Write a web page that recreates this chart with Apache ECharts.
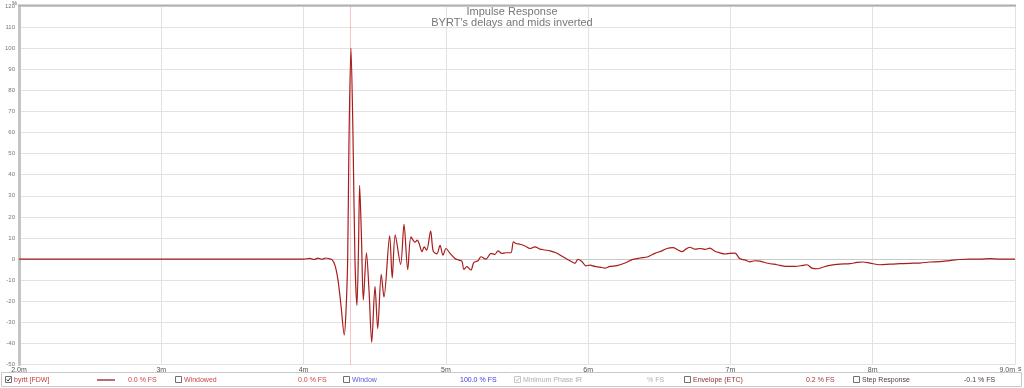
<!DOCTYPE html>
<html>
<head>
<meta charset="utf-8">
<script src="https://cdn.jsdelivr.net/npm/echarts@6/dist/echarts.min.js"></script>
<style>
html,body{margin:0;padding:0;background:#fff;}
#chart{width:1024px;height:388px;}
</style>
</head>
<body>
<div id="chart"></div>
<script>
// ---- data (time in ms, value in % FS) ----
const titleLines = ["Impulse Response", "BYRT's delays and mids inverted"];
const xTickLabels = {2: "2.0m", 3: "3m", 4: "4m", 5: "5m", 6: "6m", 7: "7m", 8: "8m", 9: "9.0m"};
const yTicks = [-50, 120, 10];
const cursorTime = 4.326;
const times = [
  2.000, 4.000, 4.045, 4.073, 4.101, 4.129, 4.157, 4.178, 4.200, 4.221,
  4.242, 4.263, 4.286, 4.298, 4.310, 4.319, 4.333, 4.347, 4.361, 4.375,
  4.386, 4.394, 4.407, 4.420, 4.442, 4.460, 4.479, 4.502, 4.521, 4.546,
  4.565, 4.605, 4.623, 4.644, 4.682, 4.706, 4.732, 4.755, 4.783, 4.799,
  4.813, 4.832, 4.848, 4.865, 4.893, 4.911, 4.937, 4.959, 4.980, 5.001,
  5.029, 5.064, 5.092, 5.113, 5.127, 5.148, 5.176, 5.197, 5.226, 5.247,
  5.282, 5.317, 5.345, 5.366, 5.394, 5.422, 5.457, 5.475, 5.493, 5.521,
  5.556, 5.591, 5.626, 5.661, 5.696, 5.732, 5.774, 5.823, 5.872, 5.907,
  5.928, 5.956, 5.985, 6.013, 6.048, 6.083, 6.118, 6.153, 6.202, 6.259,
  6.308, 6.364, 6.420, 6.469, 6.519, 6.554, 6.596, 6.631, 6.659, 6.687,
  6.715, 6.751, 6.786, 6.821, 6.856, 6.891, 6.926, 6.961, 6.996, 7.032,
  7.067, 7.102, 7.137, 7.172, 7.207, 7.264, 7.327, 7.390, 7.453, 7.509,
  7.538, 7.573, 7.615, 7.643, 7.699, 7.770, 7.840, 7.889, 7.931, 7.980,
  8.051, 8.121, 8.191, 8.261, 8.332, 8.402, 8.472, 8.542, 8.613, 8.683,
  8.753, 8.824, 8.894, 9.000
];
const values = [
  0, 0, 0.3, -0.2, 0.4, -0.1, 0.5, 0.2, -0.3, -3,
  -10, -22, -36, -25, 0, 55, 100, 60, 0, -22,
  5, 35, 10, -19.5, 3, -15, -39.5, -13, -33, -7.3,
  -18, 11, -9, 11.5, -2.5, 16.5, -5, 10.5, 8, 9,
  7.2, 3.5, 5.8, 4.2, 13.3, 3.8, 2.5, 6.5, 1.8, 5,
  2.7, 0.3, -0.5, -1, -4.9, -3.6, -5.2, -1.6, -0.8, 1.1,
  0, 2.7, 2.2, 3.9, 2.7, 3, 3, 8.2, 7.4, 7,
  6.2, 5, 5.8, 4.7, 4.3, 3.9, 3, 1.1, -0.8, -2,
  -0.1, -1.2, -3.2, -2.9, -3.5, -3.8, -4.3, -3.5, -3.1, -1.9,
  -0.3, 0.5, 1.1, 2.7, 3.9, 5, 5.4, 4.3, 3.5, 4.7,
  5.6, 4.7, 5, 4.6, 5.2, 3.7, 2.9, 2.4, 2.7, 2.8,
  0.1, -0.4, -1.3, -0.8, -1, -2, -2.7, -3.5, -3.5, -3,
  -2.7, -4.3, -4.6, -4, -3, -2.4, -2.2, -1.6, -1.4, -1.9,
  -2.7, -2.4, -2.2, -2, -1.9, -1.4, -1.2, -0.7, -0.2, 0,
  0, 0.2, 0, 0
];
const legendItems = [
  {box: true, checked: true, text: "byrtt [FDW]", color: "#c83c3c", x: 14},
  {text: "0.0 % FS", color: "#d04040", x: 128},
  {box: true, text: "Windowed", color: "#c84848", x: 184},
  {text: "0.0 % FS", color: "#d04040", x: 298},
  {box: true, text: "Window", color: "#5a5ad8", x: 352},
  {text: "100.0 % FS", color: "#3a3ae0", x: 460},
  {box: true, checked: true, disabled: true, text: "Minimum Phase IR", color: "#b0b0b0", x: 523},
  {text: "% FS", color: "#b0b0b0", x: 647},
  {box: true, text: "Envelope (ETC)", color: "#8a3030", x: 693},
  {text: "0.2 % FS", color: "#a83838", x: 806},
  {box: true, text: "Step Response", color: "#503c3c", x: 862},
  {text: "-0.1 % FS", color: "#503c3c", x: 964}
];

const FONT = "Liberation Sans, Arial, sans-serif";
const seriesData = times.map((t, i) => [t, values[i]]);

const graphics = [];
// top frame line
graphics.push({type: 'line', shape: {x1: 18, y1: 5.5, x2: 1016, y2: 5.5}, style: {stroke: '#b0b0b0', lineWidth: 2}, z: 10});
// % unit and s unit
graphics.push({type: 'text', x: 12, y: 0, style: {text: '%', fill: '#666', font: '6px ' + FONT}});
graphics.push({type: 'text', x: 1018, y: 366, style: {text: 's', fill: '#555', font: '7px ' + FONT}});
// legend frame
graphics.push({type: 'rect', shape: {x: 1.5, y: 372.5, width: 1020, height: 14}, style: {fill: '#fff', stroke: '#c8c8c8', lineWidth: 1}});
// legend line sample
graphics.push({type: 'line', shape: {x1: 97, y1: 380, x2: 115, y2: 380}, style: {stroke: '#8b1010', lineWidth: 1.2}});
legendItems.forEach(it => {
  if (it.box) {
    const bx = it.x - 8.5, by = 376.5;
    graphics.push({type: 'rect', shape: {x: bx, y: by, width: 6, height: 6}, style: {fill: '#fff', stroke: it.disabled ? '#c8c8c8' : '#707070', lineWidth: 1}});
    if (it.checked) {
      graphics.push({type: 'polyline', shape: {points: [[bx + 1.2, by + 3], [bx + 2.6, by + 4.6], [bx + 5, by + 1.2]]}, style: {stroke: it.disabled ? '#c0c0c0' : '#404040', lineWidth: 1, fill: null}});
    }
  }
  graphics.push({type: 'text', x: it.x, y: 380, style: {text: it.text, fill: it.color, font: '7px ' + FONT, textVerticalAlign: 'middle', verticalAlign: 'middle'}});
});

const chart = echarts.init(document.getElementById('chart'), null, {renderer: 'canvas'});
chart.setOption({
  animation: false,
  backgroundColor: '#fff',
  title: {
    text: titleLines.join('\n'),
    left: 512, top: 6, textAlign: 'center', padding: 0,
    textStyle: {fontSize: 11, lineHeight: 11, color: '#777', fontWeight: 'normal', fontFamily: FONT}
  },
  grid: {left: 19, right: 9, top: 6, bottom: 23.5, show: false},
  xAxis: {
    type: 'value', min: 2, max: 9, interval: 1,
    axisLine: {show: true, lineStyle: {color: '#c8c8c8', width: 1}},
    axisTick: {show: false},
    axisLabel: {fontSize: 7, color: '#555', margin: 2, fontFamily: FONT,
      alignMaxLabel: 'right',
      formatter: v => xTickLabels[v] || ''},
    splitLine: {show: true, lineStyle: {color: '#e2e2e2', width: 1}}
  },
  yAxis: {
    type: 'value', min: yTicks[0], max: yTicks[1], interval: yTicks[2],
    axisLine: {show: true, onZero: false, lineStyle: {color: '#c4c4c4', width: 3}},
    axisTick: {show: false},
    axisLabel: {fontSize: 6, color: '#777', margin: 4, fontFamily: FONT},
    splitLine: {show: true, lineStyle: {color: '#e2e2e2', width: 1}}
  },
  series: [{
    type: 'line',
    data: seriesData,
    smooth: 0.3,
    showSymbol: false,
    clip: true,
    lineStyle: {color: '#a81c1c', width: 1.2},
    markLine: {
      silent: true, symbol: 'none', label: {show: false},
      lineStyle: {color: '#f08a8a', type: 'dotted', width: 1},
      data: [{xAxis: cursorTime}]
    },
    z: 5
  }],
  graphic: graphics
});
</script>
</body>
</html>
